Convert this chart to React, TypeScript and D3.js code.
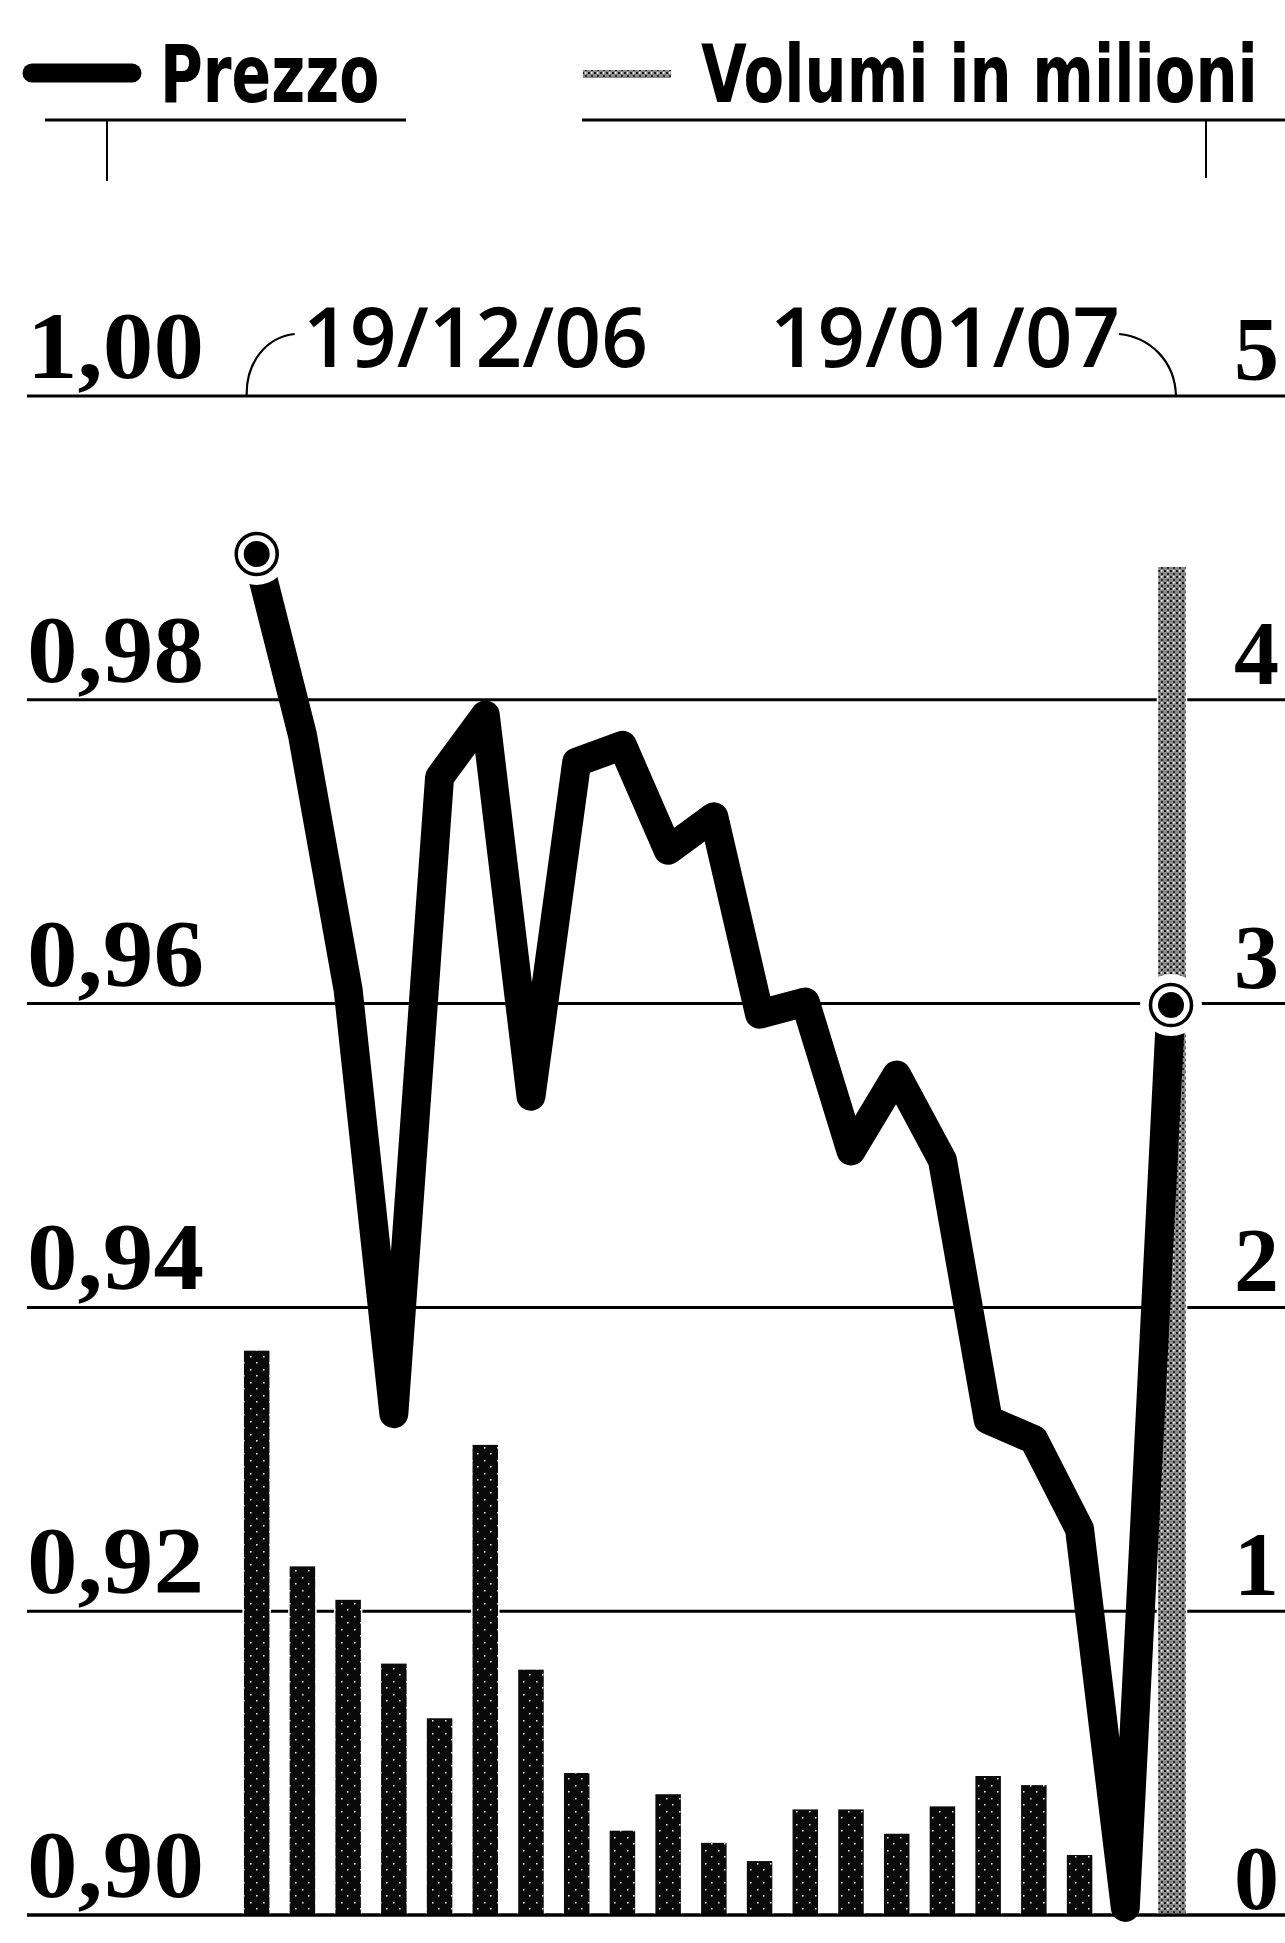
import React from "react";
import * as d3 from "d3";

// Trading sessions from 19/12/06 to 19/01/07
const sessions = [
  "19/12", "20/12", "21/12", "22/12", "27/12", "28/12", "29/12",
  "02/01", "03/01", "04/01", "05/01", "08/01", "09/01", "10/01",
  "11/01", "12/01", "15/01", "16/01", "17/01", "18/01", "19/01",
];
// Prezzo (euro)
const prices = [
  0.9896, 0.9777, 0.9609, 0.933, 0.9749, 0.979, 0.9539, 0.9759, 0.977, 0.9701,
  0.9723, 0.9593, 0.9601, 0.9503, 0.9553, 0.9497, 0.9326, 0.9313, 0.9254, 0.9005,
  0.9599,
];
// Volumi in milioni
const volumes = [
  1.86, 1.15, 1.04, 0.83, 0.65, 1.55, 0.81, 0.47, 0.28, 0.4, 0.24, 0.18, 0.35,
  0.35, 0.27, 0.36, 0.46, 0.43, 0.2, 0.3, 4.44,
];
const priceTicks = [0.9, 0.92, 0.94, 0.96, 0.98, 1.0];
const volumeTicks = [0, 1, 2, 3, 4, 5];
const dateLabels = ["19/12/06", "19/01/07"];
const legendLabels = ["Prezzo", "Volumi in milioni"];

const W = 1285;
const H = 1943;

export default function App() {
  const x = d3.scalePoint<string>().domain(sessions).range([256.7, 1171]);
  const yP = d3.scaleLinear().domain([0.9, 1.0]).range([1915, 396]);
  const yV = d3.scaleLinear().domain([0, 5]).range([1915, 396]);

  const line = d3
    .line<number>()
    .x((_, i) => x(sessions[i]) as number)
    .y((d) => yP(d));

  const barW = 27;
  const last = sessions.length - 1;
  const x0 = x(sessions[0]) as number;
  const xN = x(sessions[last]) as number;
  const fmt = (v: number) => v.toFixed(2).replace(".", ",");

  const markers = [0, last];

  return (
    <svg
      width={W}
      height={H}
      viewBox={`0 0 ${W} ${H}`}
      style={{ position: "absolute", left: 0, top: 0, background: "#fff" }}
    >
      <defs>
        <pattern id="speckle" width="13" height="13" patternUnits="userSpaceOnUse">
          <rect width="13" height="13" fill="#0a0a0a" />
          <rect x="3" y="4" width="1.5" height="1.5" fill="#fff" />
          <rect x="9" y="10" width="1.5" height="1.5" fill="#fff" />
        </pattern>
        <pattern id="greyspeckle" width="6" height="6" patternUnits="userSpaceOnUse">
          <rect width="6" height="6" fill="#8a8a8a" />
          <rect x="0" y="0" width="2" height="2" fill="#1a1a1a" />
          <rect x="3" y="3" width="2" height="2" fill="#2a2a2a" />
          <rect x="3" y="0" width="1.5" height="1.5" fill="#fff" />
        </pattern>
      </defs>

      {/* Legend */}
      <line x1={32} x2={132} y1={73} y2={73} stroke="#000" strokeWidth={19} strokeLinecap="round" />
      <text
        transform="translate(160,102) scale(0.73,1)"
        fontFamily="'DejaVu Sans', sans-serif"
        fontWeight="bold"
        fontSize={80}
        fill="#000"
      >
        {legendLabels[0]}
      </text>
      <rect x={583} y={70} width={88} height={8} fill="url(#greyspeckle)" />
      <text
        transform="translate(701,102) scale(0.74,1)"
        fontFamily="'DejaVu Sans', sans-serif"
        fontWeight="bold"
        fontSize={80}
        fill="#000"
      >
        {legendLabels[1]}
      </text>
      <line x1={45} x2={406} y1={120} y2={120} stroke="#000" strokeWidth={3} />
      <line x1={582} x2={W} y1={120} y2={120} stroke="#000" strokeWidth={3} />
      <line x1={107} x2={107} y1={120} y2={181} stroke="#000" strokeWidth={2} />
      <line x1={1206} x2={1206} y1={120} y2={178} stroke="#000" strokeWidth={2} />

      {/* Gridlines */}
      {priceTicks.map((t) => (
        <line key={t} x1={27} x2={W} y1={yP(t)} y2={yP(t)} stroke="#000" strokeWidth={3} />
      ))}

      {/* Left axis labels */}
      {priceTicks.map((t) => (
        <text
          key={"l" + t}
          x={27}
          y={yP(t) - 18}
          fontFamily="'Liberation Serif', serif"
          fontWeight="bold"
          fontSize={96}
          textLength={177}
          lengthAdjust="spacingAndGlyphs"
          fill="#000"
        >
          {fmt(t)}
        </text>
      ))}

      {/* Right axis labels */}
      {volumeTicks.map((t) => (
        <text
          key={"r" + t}
          x={1234}
          y={yV(t) - (t === 0 ? 6 : 16)}
          fontFamily="'Liberation Serif', serif"
          fontWeight="bold"
          fontSize={90}
          fill="#000"
        >
          {t}
        </text>
      ))}

      {/* Date labels with leaders */}
      <text
        x={303}
        y={367}
        fontFamily="'Open Sans', sans-serif"
        fontWeight={600}
        fontSize={84}
        textLength={345}
        lengthAdjust="spacingAndGlyphs"
        fill="#000"
      >
        {dateLabels[0]}
      </text>
      <text
        x={770}
        y={367}
        fontFamily="'Open Sans', sans-serif"
        fontWeight={600}
        fontSize={84}
        textLength={350}
        lengthAdjust="spacingAndGlyphs"
        fill="#000"
      >
        {dateLabels[1]}
      </text>
      <path
        d={`M ${x0 - 10} ${yP(1.0)} C ${x0 - 11} 362, ${x0 + 10} 337, ${x0 + 38} 334`}
        fill="none"
        stroke="#000"
        strokeWidth={2.2}
      />
      <path
        d={`M ${xN - 52} 334 C ${xN - 22} 337, ${xN + 4} 360, ${xN + 5} ${yP(1.0)}`}
        fill="none"
        stroke="#000"
        strokeWidth={2.2}
      />

      {/* Volume bars */}
      {volumes.map((v, i) => (
        <rect
          key={"b" + i}
          x={(x(sessions[i]) as number) - barW / 2}
          y={yV(v)}
          width={i === last ? 29 : barW}
          height={yV(0) - yV(v)}
          fill={i === last ? "url(#greyspeckle)" : "url(#speckle)"}
          stroke="#fff"
          strokeWidth={1.5}
        />
      ))}
      <line x1={27} x2={W} y1={yP(0.9)} y2={yP(0.9)} stroke="#000" strokeWidth={3} />

      {/* Price line */}
      <path
        d={line(prices) || ""}
        fill="none"
        stroke="#000"
        strokeWidth={29}
        strokeLinejoin="round"
        strokeLinecap="butt"
      />

      {/* End markers */}
      {markers.map((i) => {
        const cx = x(sessions[i]) as number;
        const cy = yP(prices[i]);
        return (
          <g key={"m" + i}>
            <circle cx={cx} cy={cy} r={31} fill="#fff" />
            <circle cx={cx} cy={cy} r={20.5} fill="none" stroke="#000" strokeWidth={3.5} />
            <circle cx={cx} cy={cy} r={13} fill="#000" />
          </g>
        );
      })}
    </svg>
  );
}
